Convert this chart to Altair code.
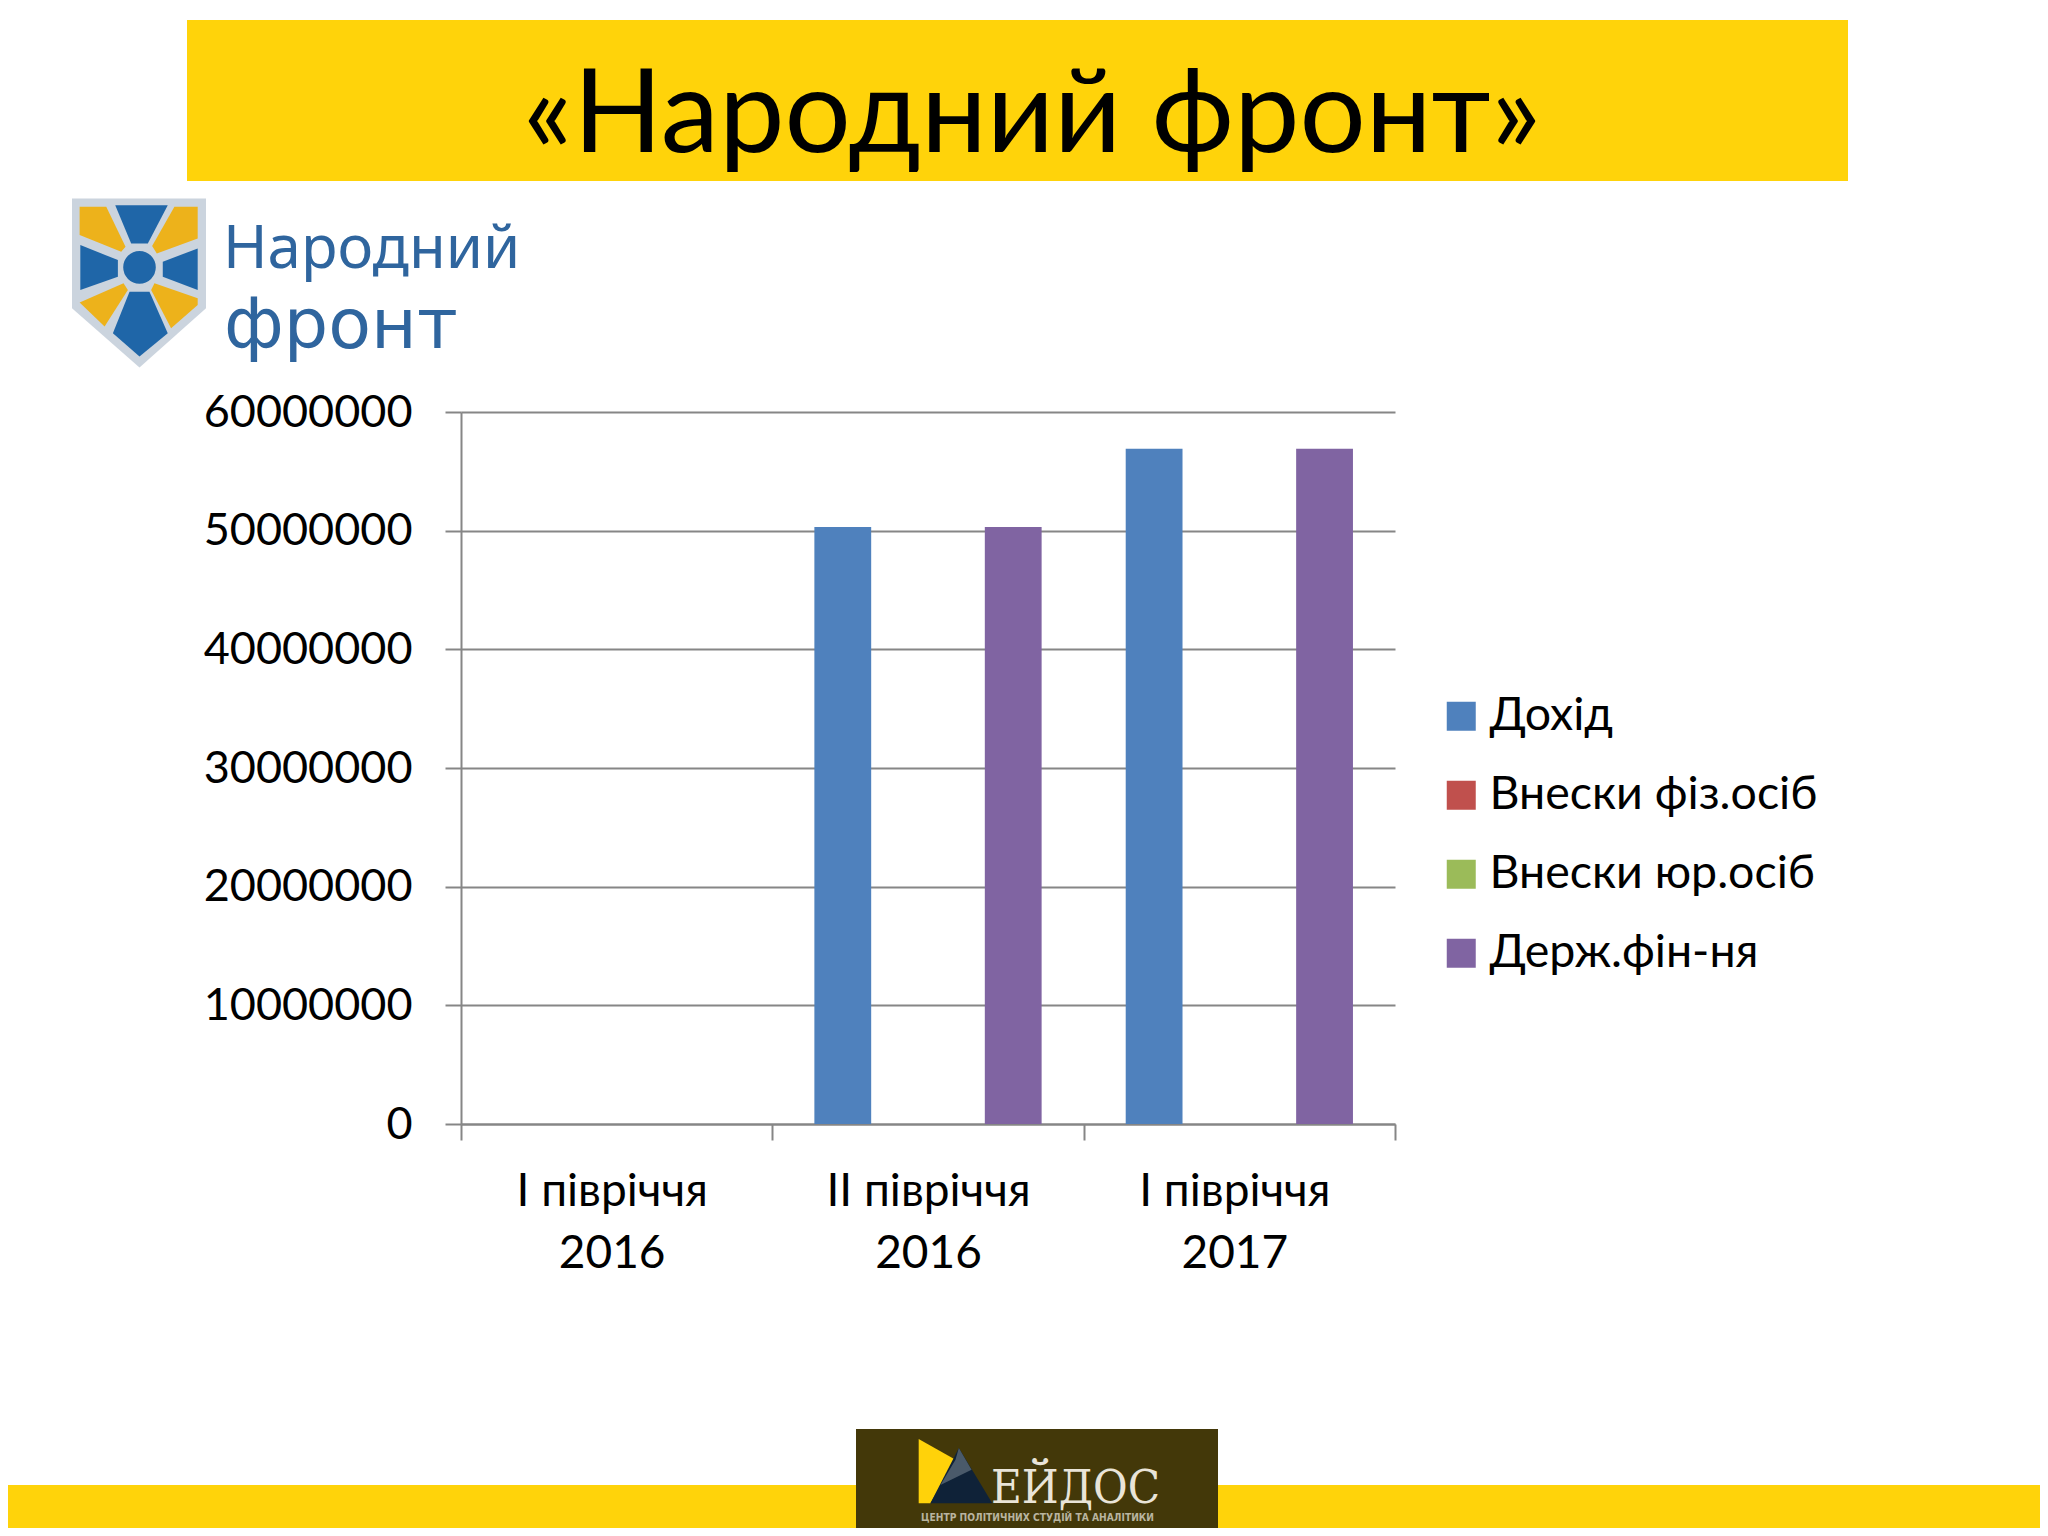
import base64
import altair as alt
import pandas as pd

categories = ["I півріччя\n2016", "II півріччя\n2016", "I півріччя\n2017"]
series = ["Дохід", "Внески фіз.осіб", "Внески юр.осіб", "Держ.фін-ня"]
income = [0, 50300000, 56900000]
individuals = [0, 0, 0]
legal = [0, 0, 0]
state = [0, 50300000, 56900000]
colors = ["#4F81BD", "#C0504D", "#9BBB59", "#8064A2"]
FONT = "Lato"

rows = []
for s, vals in zip(series, [income, individuals, legal, state]):
    for c, v in zip(categories, vals):
        rows.append({"period": c, "series": s, "value": v})
df = pd.DataFrame(rows)

OX, OY = 461, 412
W, H = 934, 712
one = pd.DataFrame({"a": [0]})


def rect(x0, x1, y0, y1, color):
    return alt.Chart(one).mark_rect(color=color).encode(
        x=alt.value(x0 - OX), x2=alt.value(x1 - OX),
        y=alt.value(y0 - OY), y2=alt.value(y1 - OY))


def text(s, x, y, size, color, font=FONT, align="left", weight="normal"):
    return alt.Chart(one).mark_text(
        text=s, font=font, fontSize=size, color=color, align=align,
        baseline="alphabetic", fontWeight=weight).encode(
        x=alt.value(x - OX), y=alt.value(y - OY))


def svg_image(svg, x, y, w, h):
    uri = "data:image/svg+xml;base64," + base64.b64encode(svg.encode()).decode()
    return alt.Chart(one).mark_image(
        url=uri, width=w, height=h, align="left", baseline="top").encode(
        x=alt.value(x - OX), y=alt.value(y - OY))


def poly(points, fill):
    return '<polygon fill="%s" points="%s"/>' % (fill, " ".join("%d,%d" % p for p in points))


BLUE, YEL, RIM = "#1F66A8", "#EDB21B", "#CBD4DE"
shield = ('<svg xmlns="http://www.w3.org/2000/svg" width="403" height="508" viewBox="67 55 403 508">'
          + poly([(67, 55), (470, 55), (470, 385), (270, 563), (67, 385)], RIM)
          + poly([(197, 75), (355, 75), (295, 190), (245, 190)], BLUE)
          + poly([(90, 80), (170, 80), (228, 200), (215, 215), (90, 165)], YEL)
          + poly([(375, 80), (445, 80), (445, 175), (322, 220), (308, 198)], YEL)
          + poly([(92, 195), (205, 240), (205, 290), (92, 330)], BLUE)
          + poly([(445, 205), (445, 330), (340, 290), (340, 245)], BLUE)
          + poly([(90, 368), (222, 310), (235, 330), (165, 440)], YEL)
          + poly([(315, 310), (445, 355), (445, 375), (365, 445), (305, 330)], YEL)
          + poly([(240, 335), (300, 335), (355, 460), (270, 530), (190, 460)], BLUE)
          + '<circle cx="270" cy="262" r="55" fill="%s" stroke="%s" stroke-width="12"/></svg>' % (BLUE, RIM))
eidos = ('<svg xmlns="http://www.w3.org/2000/svg" width="230" height="200" viewBox="230 85 230 200">'
         + poly([(235, 88), (345, 150), (270, 280), (235, 280)], "#FFD20A")
         + poly([(355, 115), (455, 280), (270, 280)], "#0F2238")
         + poly([(345, 150), (355, 115), (393, 180), (300, 225)], "#4A5A6A")
         + '</svg>')

decor = [
    rect(187, 1848, 20, 181, "#FFD30A"),
    rect(0, 2048, 1485, 1533, "#FFD30A"),
    rect(856, 1218, 1429, 1534, "#433809"),
    text("«Народний фронт»", 1032, 152, 117, "#000000", align="center"),
    svg_image(shield, 72, 198, 134, 170),
    text("Народний", 223, 268, 60, "#2F659E", font="Noto Sans"),
    text("фронт", 224, 348, 70, "#2F659E", font="DejaVu Sans"),
    svg_image(eidos, 917, 1438, 77, 67),
    text("ЕЙДОС", 991, 1503, 47, "#E9E4D8", font="DejaVu Serif Condensed"),
    text("ЦЕНТР ПОЛІТИЧНИХ СТУДІЙ ТА АНАЛІТИКИ", 921, 1521, 10.2, "#B9B4A0", font="DejaVu Sans Condensed", weight="bold"),
]

bars = alt.Chart(df).mark_bar().encode(
    x=alt.X("period:N", sort=categories, title=None,
            scale=alt.Scale(paddingInner=0, paddingOuter=0),
            axis=alt.Axis(labelAngle=0, tickBand="extent", tickSize=16, tickColor="#868686",
                          domainColor="#868686", tickWidth=2, domainWidth=2, grid=False,
                          labelFont=FONT, labelFontSize=46, labelColor="#000000",
                          labelPadding=29, labelLineHeight=62, labelLimit=600,
                          labelOffset={"expr": "datum.index === 0.5 ? 0 : -5"},
                          labelExpr="split(datum.label, '\\n')")),
    xOffset=alt.XOffset("series:N", sort=series,
                        scale=alt.Scale(paddingInner=0, paddingOuter=0.74)),
    y=alt.Y("value:Q", title=None,
            scale=alt.Scale(domain=[0, 60000000], nice=False),
            axis=alt.Axis(values=[0, 10000000, 20000000, 30000000, 40000000, 50000000, 60000000],
                          format="d", tickSize=16, tickColor="#868686", domainColor="#868686",
                          tickWidth=2, domainWidth=2, gridColor="#868686", gridWidth=2,
                          labelFont=FONT, labelFontSize=45, labelColor="#000000", labelPadding=33,
                          labelLimit=600)),
    color=alt.Color("series:N", sort=series,
                    scale=alt.Scale(domain=series, range=colors),
                    legend=alt.Legend(title=None, orient="none", legendX=977, legendY=281,
                                      symbolType="square", symbolSize=841, symbolStrokeWidth=0,
                                      labelFont=FONT, labelFontSize=46.5, labelColor="#000000",
                                      rowPadding=32, labelOffset=5, padding=0, labelLimit=600)),
)

chart = alt.layer(*decor, bars).properties(
    width=W, height=H,
    padding={"left": OX - 8, "top": OY - 8, "right": 2040 - OX - W, "bottom": 1528 - OY - H},
    autosize=alt.AutoSizeParams(type="none"),
    background="#FFFFFF",
).configure_view(stroke=None).resolve_scale(x="shared")

chart.save("out.html", embed_options={"renderer": "svg", "actions": False})
